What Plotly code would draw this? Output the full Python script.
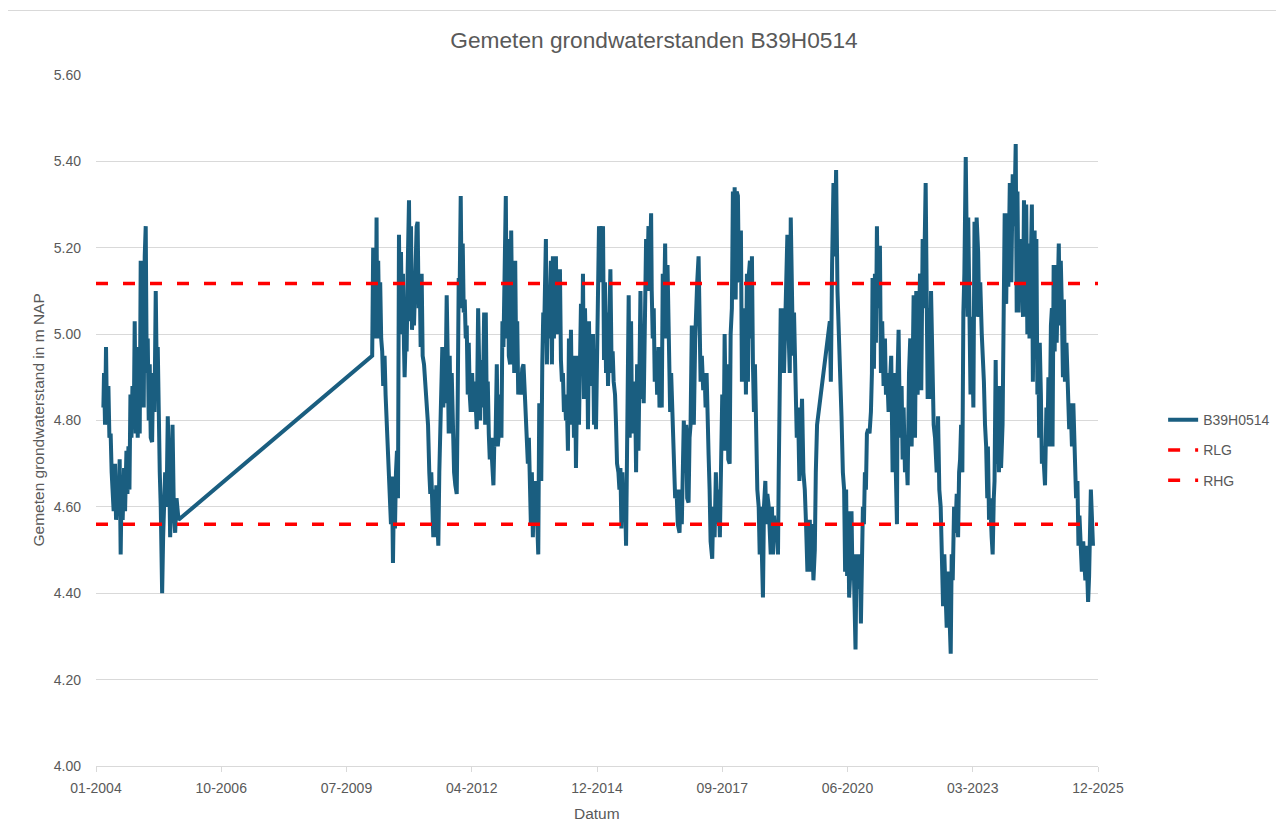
import pandas as pd
import plotly.graph_objects as go

# ---- Data: Excel date serials (days since 1899-12-30) and levels in m NAP ----
serial_2004 = [38059, 38064, 38072, 38080, 38088, 38099, 38107, 38117, 38125, 38133, 38141, 38152, 38160, 38171, 38179, 38189, 38197, 38205, 38213, 38224, 38232, 38243, 38251, 38259, 38267, 38275, 38283, 38291, 38301, 38309, 38317, 38325, 38333, 38341, 38349, 38357, 38365, 38373, 38381, 38389, 38397, 38405, 38413, 38421, 38429, 38437, 38448, 38456, 38467, 38477, 38485, 38493, 38501, 38509, 38517, 38523, 38528, 38536, 38544, 38552, 38563, 38573, 38584, 38592, 38603, 38611, 38621, 38632, 38643, 38653, 38659]
level_2004 = [4.83, 4.91, 4.79, 4.97, 4.79, 4.88, 4.76, 4.77, 4.68, 4.62, 4.59, 4.70, 4.57, 4.64, 4.59, 4.71, 4.49, 4.66, 4.57, 4.69, 4.59, 4.73, 4.63, 4.74, 4.64, 4.86, 4.76, 4.88, 4.78, 5.03, 4.77, 4.97, 4.76, 4.95, 4.77, 5.17, 4.91, 5.12, 4.83, 5.18, 5.25, 4.91, 4.99, 4.80, 4.93, 4.76, 4.75, 4.91, 4.82, 5.10, 4.91, 4.97, 4.72, 4.68, 4.60, 4.49, 4.40, 4.53, 4.64, 4.68, 4.60, 4.81, 4.68, 4.53, 4.64, 4.79, 4.60, 4.54, 4.62, 4.57, 4.57]

serial_2010 = [40205, 40211, 40213, 40219, 40227, 40235, 40240, 40245, 40253, 40261, 40269, 40277, 40285, 40293, 40304, 40312, 40320, 40328, 40339, 40347, 40355, 40363, 40371, 40379, 40387, 40395, 40403, 40411, 40419, 40427, 40435, 40443, 40451, 40459, 40464, 40472, 40480, 40488, 40499, 40507, 40515, 40523, 40531, 40539, 40549, 40560, 40568, 40576, 40584, 40592, 40600, 40608, 40619, 40629, 40640, 40651, 40661, 40669, 40677, 40685, 40693, 40701, 40709, 40717, 40725, 40733, 40741, 40749, 40757, 40765, 40773, 40781, 40789, 40800, 40808, 40816, 40824, 40832, 40840, 40848, 40859, 40869, 40880, 40888, 40896, 40904, 40912, 40920, 40928, 40936, 40944, 40952, 40960, 40968, 40976, 40984, 40992, 41003, 41013, 41024, 41032, 41040, 41051, 41059, 41067, 41075, 41083, 41091, 41099, 41107]
level_2010 = [4.95, 5.05, 5.20, 4.99, 5.16, 5.02, 5.27, 4.99, 5.17, 5.02, 5.12, 4.99, 4.96, 4.88, 4.95, 4.86, 4.81, 4.73, 4.70, 4.66, 4.56, 4.67, 4.47, 4.64, 4.55, 4.68, 4.73, 4.62, 5.23, 5.00, 5.19, 5.02, 5.14, 4.97, 4.90, 4.99, 4.96, 5.14, 5.31, 5.03, 5.25, 5.01, 5.08, 5.02, 5.14, 5.25, 5.26, 5.06, 5.14, 4.97, 5.14, 4.95, 4.93, 4.88, 4.86, 4.79, 4.68, 4.63, 4.68, 4.60, 4.53, 4.64, 4.53, 4.65, 4.54, 4.51, 4.68, 4.77, 4.79, 4.97, 4.83, 4.91, 4.84, 5.09, 4.95, 4.77, 4.95, 4.77, 4.91, 4.79, 4.68, 4.65, 4.63, 4.85, 5.13, 5.12, 5.32, 5.06, 5.21, 5.05, 5.08, 4.99, 5.02, 4.86, 4.98, 4.86, 4.82, 4.91, 4.82, 4.89, 4.83, 4.78, 5.06, 4.91, 4.80, 4.94, 4.83, 4.89, 5.05, 4.79]

serial_2012 = [41112, 41120, 41128, 41136, 41144, 41152, 41163, 41173, 41181, 41189, 41200, 41208, 41216, 41227, 41237, 41245, 41253, 41261, 41272, 41280, 41288, 41296, 41307, 41315, 41323, 41331, 41339, 41347, 41355, 41363, 41371, 41381, 41392, 41403, 41413, 41424, 41432, 41440, 41448, 41456, 41464, 41472, 41480, 41488, 41496, 41504, 41512, 41520, 41531, 41539, 41547, 41555, 41563, 41571, 41579, 41587, 41592, 41600, 41608, 41616, 41624, 41632, 41640, 41648, 41656, 41664, 41672, 41680, 41688, 41696, 41704, 41712, 41720, 41728, 41736, 41744, 41752, 41760, 41768, 41776, 41784, 41792, 41800, 41808, 41816, 41824, 41832, 41840, 41848, 41856, 41864, 41872, 41880, 41888, 41896, 41904, 41912, 41920, 41928, 41936, 41944, 41952, 41960, 41968, 41976, 41984, 41992, 42000, 42008, 42016, 42024, 42032, 42040, 42048, 42056]
level_2012 = [5.05, 4.82, 4.89, 4.77, 4.71, 4.76, 4.68, 4.65, 4.76, 4.74, 4.93, 4.74, 4.77, 4.86, 4.76, 5.03, 4.97, 5.08, 5.32, 4.99, 5.22, 4.95, 4.93, 5.24, 5.02, 5.14, 4.91, 5.17, 4.93, 5.03, 4.86, 4.91, 4.86, 4.92, 4.93, 4.86, 4.81, 4.77, 4.70, 4.76, 4.68, 4.56, 4.68, 4.53, 4.64, 4.56, 4.66, 4.59, 4.49, 4.84, 4.71, 4.66, 4.93, 5.05, 5.02, 5.12, 5.22, 4.93, 5.11, 4.99, 5.08, 5.17, 4.93, 5.18, 4.99, 5.12, 5.18, 5.00, 5.14, 5.02, 5.15, 4.94, 4.89, 4.91, 4.82, 4.86, 4.80, 4.83, 4.73, 4.99, 4.79, 5.01, 4.83, 4.91, 4.76, 4.95, 4.69, 4.86, 4.95, 4.79, 4.99, 5.07, 4.91, 5.14, 4.85, 5.06, 4.95, 5.02, 4.78, 5.03, 4.88, 4.97, 4.89, 5.00, 4.79, 4.91, 4.78, 5.01, 5.16, 5.25, 5.12, 5.22, 5.14, 5.25, 4.94]

serial_2015 = [42064, 42072, 42080, 42088, 42099, 42107, 42117, 42125, 42133, 42144, 42152, 42160, 42171, 42179, 42187, 42195, 42203, 42211, 42219, 42227, 42232, 42240, 42245, 42253, 42261, 42272, 42280, 42288, 42296, 42304, 42312, 42320, 42331, 42339, 42347, 42357, 42365, 42373, 42384, 42392, 42400, 42411, 42419, 42432, 42437, 42445, 42453, 42461, 42472, 42480, 42491, 42499, 42509, 42517, 42525, 42533, 42544, 42552, 42563, 42573, 42584, 42592, 42603, 42613, 42624, 42635, 42645, 42659, 42667, 42677, 42685, 42693, 42704, 42712, 42720, 42731, 42739, 42747, 42757, 42765, 42773, 42784, 42792, 42800, 42811, 42819, 42827, 42837, 42848, 42859, 42867, 42875, 42883, 42891, 42899, 42907, 42920, 42928, 42939, 42949, 42960, 42971, 42981, 42992, 43000, 43011, 43019]
level_2015 = [5.12, 4.91, 5.05, 4.88, 5.02, 5.15, 4.91, 4.96, 4.89, 4.86, 4.79, 4.70, 4.68, 4.64, 4.69, 4.55, 4.68, 4.59, 4.62, 4.58, 4.51, 4.76, 4.93, 5.09, 4.76, 5.03, 4.77, 4.89, 4.77, 4.87, 4.68, 4.93, 4.73, 4.93, 5.10, 4.85, 4.93, 4.84, 5.14, 5.22, 5.10, 5.25, 5.10, 5.28, 5.10, 4.99, 5.06, 4.89, 4.96, 4.86, 4.97, 4.83, 4.89, 4.83, 5.14, 5.02, 5.21, 4.99, 5.16, 4.91, 4.82, 4.91, 4.82, 4.69, 4.62, 4.64, 4.56, 4.54, 4.64, 4.56, 4.72, 4.80, 4.68, 4.79, 4.62, 4.61, 4.76, 4.79, 5.02, 4.91, 4.79, 4.99, 5.10, 5.12, 5.18, 4.99, 4.89, 4.95, 4.87, 4.91, 4.83, 4.91, 4.77, 4.72, 4.64, 4.52, 4.48, 4.60, 4.53, 4.68, 4.56, 4.64, 4.53, 4.67, 4.86, 4.73, 5.00]

serial_2017 = [43032, 43040, 43048, 43059, 43067, 43077, 43085, 43093, 43099, 43107, 43115, 43125, 43133, 43141, 43149, 43157, 43165, 43173, 43181, 43189, 43197, 43205, 43213, 43221, 43229, 43237, 43245, 43253, 43261, 43272, 43280, 43291, 43299, 43307, 43317, 43325, 43333, 43344, 43352, 43360, 43371, 43379, 43387, 43397, 43405, 43413, 43424, 43432, 43445, 43451, 43459, 43467, 43477, 43485, 43493, 43504, 43512, 43520, 43531, 43539, 43547, 43557, 43565, 43573, 43584, 43595, 43605, 43616, 43627, 43637, 43648, 43659, 43669, 43680, 43691, 43699, 43707, 43717, 43728, 43739, 43747, 43757]
level_2017 = [4.73, 4.93, 4.71, 4.70, 5.00, 5.06, 5.33, 5.08, 5.34, 5.08, 5.33, 5.32, 5.12, 5.13, 5.24, 4.89, 5.06, 4.97, 5.05, 4.86, 5.14, 4.89, 5.14, 5.17, 4.99, 5.18, 4.93, 4.82, 4.93, 4.77, 4.64, 4.60, 4.49, 4.60, 4.45, 4.39, 4.60, 4.66, 4.56, 4.63, 4.60, 4.53, 4.49, 4.60, 4.49, 4.58, 4.53, 4.56, 4.49, 4.68, 4.86, 5.06, 4.91, 5.06, 4.91, 5.06, 5.12, 5.23, 4.99, 4.91, 5.27, 5.06, 4.95, 5.05, 4.89, 4.76, 4.83, 4.66, 4.76, 4.85, 4.68, 4.64, 4.56, 4.45, 4.49, 4.57, 4.45, 4.56, 4.43, 4.50, 4.68, 4.79]

serial_2020 = [43859, 43867, 43877, 43888, 43899, 43909, 43920, 43931, 43941, 43952, 43963, 43973, 43981, 43989, 43997, 44005, 44013, 44021, 44032, 44040, 44048, 44056, 44064, 44072, 44080, 44091, 44099, 44107, 44115, 44123, 44131, 44139, 44147, 44155, 44165, 44176, 44187, 44195, 44200, 44211, 44219, 44227, 44235, 44243, 44251, 44259, 44267, 44277, 44288, 44299, 44307, 44317, 44328, 44339, 44349, 44360, 44368, 44379, 44389, 44395, 44400, 44408, 44416, 44424, 44432, 44440, 44448, 44459, 44469, 44480, 44491, 44501, 44512, 44520, 44528, 44539, 44549, 44560, 44571, 44579, 44589, 44600, 44608, 44616, 44624, 44632, 44640, 44651, 44659, 44667, 44677, 44688, 44699, 44712, 44723, 44733, 44744, 44752, 44763, 44773, 44784, 44792, 44803, 44813, 44824, 44832, 44840, 44851, 44861, 44872, 44883, 44891, 44899, 44907, 44917, 44925, 44933, 44944]
level_2020 = [5.03, 4.89, 5.16, 5.35, 5.18, 5.38, 5.10, 5.02, 4.91, 4.81, 4.68, 4.64, 4.45, 4.64, 4.44, 4.59, 4.39, 4.44, 4.59, 4.43, 4.49, 4.33, 4.27, 4.49, 4.41, 4.49, 4.48, 4.33, 4.45, 4.60, 4.56, 4.68, 4.64, 4.77, 4.78, 4.77, 4.82, 4.91, 5.13, 4.92, 5.14, 4.98, 5.25, 5.06, 5.20, 5.20, 4.91, 5.03, 4.88, 4.99, 4.86, 4.91, 4.82, 4.91, 4.95, 4.68, 4.91, 4.77, 4.68, 4.56, 4.91, 5.01, 4.83, 4.76, 4.88, 4.71, 4.83, 4.68, 4.73, 4.65, 4.91, 4.99, 4.74, 4.95, 5.09, 4.76, 5.10, 4.86, 4.99, 5.14, 4.87, 5.22, 5.06, 5.23, 5.35, 5.10, 4.85, 5.06, 4.85, 5.10, 4.91, 4.79, 4.76, 4.68, 4.81, 4.64, 4.60, 4.46, 4.37, 4.49, 4.37, 4.32, 4.45, 4.31, 4.26, 4.49, 4.43, 4.60, 4.54, 4.63, 4.53, 4.68, 4.71, 4.79, 4.68, 5.05, 5.14, 5.41]

serial_2023 = [44959, 44964, 44973, 44982, 44991, 45000, 45005, 45014, 45023, 45031, 45043, 45052, 45060, 45072, 45081, 45089, 45098, 45107, 45116, 45121, 45130, 45139, 45151, 45159, 45168, 45174, 45183, 45191, 45200, 45209, 45217, 45226, 45238, 45247, 45255, 45267, 45276, 45284, 45296, 45308, 45319, 45331, 45343, 45351, 45357, 45366, 45375, 45383, 45392, 45401, 45409, 45418, 45427, 45436, 45444, 45453, 45462]
level_2023 = [5.04, 5.27, 5.00, 4.86, 5.04, 4.85, 4.83, 5.26, 5.04, 5.27, 5.19, 5.04, 5.12, 5.00, 4.95, 4.89, 4.79, 4.74, 4.62, 4.74, 4.57, 4.62, 4.53, 4.49, 4.62, 4.66, 4.94, 4.70, 4.87, 4.68, 4.88, 4.69, 4.79, 5.04, 5.28, 5.07, 5.28, 5.11, 5.35, 5.12, 5.37, 5.25, 5.44, 5.05, 5.33, 5.05, 5.22, 5.16, 5.22, 5.04, 5.31, 5.04, 5.30, 5.00, 5.21, 4.99, 5.21]

serial_2024 = [45472, 45480, 45489, 45494, 45502, 45508, 45516, 45524, 45530, 45535, 45544, 45552, 45560, 45571, 45577, 45588, 45596, 45604, 45613, 45624, 45632, 45637, 45646, 45654, 45662, 45670, 45679, 45687, 45695, 45703, 45712, 45720, 45728, 45736, 45748, 45759, 45770, 45781, 45792, 45803, 45814, 45825, 45836, 45844, 45852, 45863, 45871, 45882, 45891, 45899, 45907, 45916, 45921, 45929, 45938, 45943, 45951, 45960]
level_2024 = [5.30, 4.89, 5.14, 5.24, 4.98, 5.22, 4.86, 4.98, 4.76, 4.98, 4.86, 4.70, 4.74, 4.69, 4.65, 4.83, 4.74, 4.90, 4.74, 5.02, 5.06, 4.74, 5.16, 4.96, 5.16, 4.98, 5.10, 5.21, 5.02, 5.17, 5.05, 4.90, 5.08, 4.89, 4.98, 4.89, 4.78, 4.84, 4.74, 4.84, 4.70, 4.62, 4.66, 4.51, 4.58, 4.52, 4.45, 4.52, 4.47, 4.43, 4.51, 4.41, 4.38, 4.44, 4.55, 4.64, 4.58, 4.51]

# Reference levels (m NAP)
rlg_level = 4.56
rhg_level = 5.117

# Axis (Excel serials) and tick labels
axis_serials = [38000, 46000]
tick_serials = [38000, 39000, 40000, 41000, 42000, 43000, 44000, 45000, 46000]
tick_labels = ["01-2004", "10-2006", "07-2009", "04-2012", "12-2014",
               "09-2017", "06-2020", "03-2023", "12-2025"]

# ---- Build ----
segments = [(serial_2004, level_2004), (serial_2010, level_2010), (serial_2012, level_2012),
            (serial_2015, level_2015), (serial_2017, level_2017), (serial_2020, level_2020),
            (serial_2023, level_2023), (serial_2024, level_2024)]
df = pd.concat([pd.DataFrame({"serial": s, "level": l}) for s, l in segments], ignore_index=True)
origin = pd.Timestamp("1899-12-30")


def to_dates(serials):
    return pd.to_datetime(pd.Series(serials), unit="D", origin=origin)


df["date"] = to_dates(df["serial"])
axis_dates = to_dates(axis_serials)
tick_dates = to_dates(tick_serials)

FONT = "Liberation Sans, Arial, sans-serif"
GREY = "#595959"
GRID = "#d9d9d9"

# page body has an 8px margin; figure sized so plot area lands at x 96-1098, y 75-766
W, H = 1276, 829
ML, MT = 88, 67
PW, PH = 1002, 691

fig = go.Figure()
fig.add_trace(go.Scatter(x=df["date"], y=df["level"], mode="lines", name="B39H0514",
                         legendgroup="a", line=dict(color="#1a5e80", width=4)))
fig.add_trace(go.Scatter(x=axis_dates, y=[rlg_level, rlg_level], mode="lines", name="RLG",
                         legendgroup="b", line=dict(color="#ff0000", width=3.5, dash="12px,15px")))
fig.add_trace(go.Scatter(x=axis_dates, y=[rhg_level, rhg_level], mode="lines", name="RHG",
                         legendgroup="c", line=dict(color="#ff0000", width=3.5, dash="12px,15px")))

fig.update_layout(
    width=W, height=H,
    margin=dict(l=ML, r=W - ML - PW, t=MT, b=H - MT - PH, autoexpand=False),
    paper_bgcolor="white", plot_bgcolor="white",
    font=dict(family=FONT, size=14, color=GREY),
    title=dict(text="Gemeten grondwaterstanden B39H0514", xref="container", x=(654 - 8) / W,
               xanchor="center", yref="container", y=1 - 32 / H, yanchor="middle",
               font=dict(size=22.7, color=GREY, family=FONT)),
    legend=dict(x=1.065, y=0.457, xanchor="left", yanchor="middle", tracegroupgap=9,
                font=dict(size=14, color=GREY, family=FONT), bgcolor="rgba(0,0,0,0)"),
    showlegend=True,
    xaxis=dict(type="date", range=list(axis_dates), tickvals=list(tick_dates), ticktext=tick_labels,
               showgrid=False, zeroline=False, showline=True, linecolor=GRID, linewidth=1,
               ticks="outside", ticklen=5, tickcolor=GRID, ticklabelstandoff=4,
               tickfont=dict(size=14, color=GREY)),
    yaxis=dict(range=[4.0, 5.6], tick0=4.0, dtick=0.2, tickformat=".2f", showgrid=True,
               gridcolor=GRID, gridwidth=1, zeroline=False, showline=False, ticks="",
               ticklabelstandoff=14, tickfont=dict(size=14, color=GREY)),
    annotations=[
        dict(text="Datum", xref="paper", yref="paper", x=0.5, y=(766 - 813) / PH,
             xanchor="center", yanchor="middle", showarrow=False, font=dict(size=15.5, color=GREY)),
        dict(text="Gemeten grondwaterstand in m NAP", xref="paper", yref="paper",
             x=(38 - 96) / PW, y=0.5, xanchor="center", yanchor="middle", textangle=-90,
             showarrow=False, font=dict(size=15.5, color=GREY)),
    ],
    shapes=[dict(type="rect", xref="paper", yref="paper", x0=(5.5 - 96) / PW, x1=(1279 - 96) / PW,
                 y0=(766 - 845) / PH, y1=(766 - 10.5) / PH, line=dict(color=GRID, width=1),
                 fillcolor="rgba(0,0,0,0)", layer="below")],
)

fig.write_html("out.html")
